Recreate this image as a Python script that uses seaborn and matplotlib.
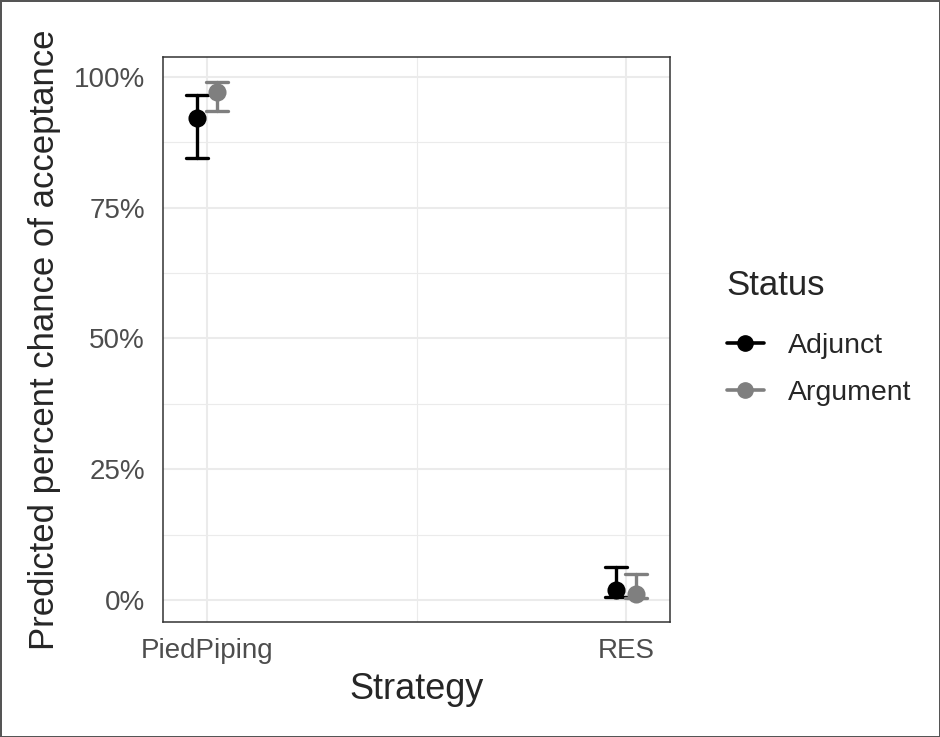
import matplotlib
matplotlib.use('Agg')
from matplotlib import pyplot as plt
from matplotlib.lines import Line2D
import matplotlib.ticker as ticker
import seaborn as sns
import pandas as pd

strategies = ['PiedPiping', 'PiedPiping', 'RES', 'RES']
statuses = ['Adjunct', 'Argument', 'Adjunct', 'Argument']
estimate = [0.922, 0.972, 0.019, 0.012]
lower = [0.845, 0.935, 0.005, 0.004]
upper = [0.966, 0.990, 0.063, 0.050]
status_colors = {'Adjunct': '#000000', 'Argument': '#7F7F7F'}

sns.set_style('white')
plt.rcParams['font.family'] = ['Liberation Sans', 'DejaVu Sans']

# three rows per group (low, estimate, high) -> median + min/max interval
rows = []
for s, st, e, lo, hi in zip(strategies, statuses, estimate, lower, upper):
    for v in (lo, e, hi):
        rows.append([s, st, v])
df = pd.DataFrame(rows, columns=['Strategy', 'Status', 'pred'])

fig = plt.figure(figsize=(9.4, 7.37), dpi=100)
fig.patch.set_edgecolor('#555555')
fig.patch.set_linewidth(2)
ax = fig.add_axes([163 / 940, 1 - 622 / 737, 507 / 940, 565 / 737])

sns.pointplot(
    data=df, x='Strategy', y='pred', hue='Status',
    order=['PiedPiping', 'RES'], hue_order=['Adjunct', 'Argument'],
    palette=status_colors,
    estimator='median', errorbar=lambda v: (v.min(), v.max()),
    dodge=0.048, capsize=0.052, linestyle='none', markersize=11,
    err_kws={'linewidth': 2.4}, legend=False, ax=ax,
)

ax.set_xlim(-0.105, 1.105)
ax.set_ylim(-0.042, 1.038)
ax.yaxis.set_major_locator(ticker.MultipleLocator(0.25))
ax.yaxis.set_minor_locator(ticker.MultipleLocator(0.125))
ax.xaxis.set_minor_locator(ticker.FixedLocator([0.5]))
ax.yaxis.set_major_formatter(ticker.PercentFormatter(1.0, decimals=0))
ax.grid(which='major', color='#EBEBEB', linewidth=1.5)
ax.grid(which='minor', color='#EBEBEB', linewidth=0.8)
ax.set_axisbelow(True)
for sp in ax.spines.values():
    sp.set_color('#333333')
    sp.set_linewidth(1.1)
ax.tick_params(which='major', length=6.5, width=1.3, color='#333333',
               labelsize=20, labelcolor='#4D4D4D', pad=5)
ax.tick_params(axis='y', pad=6.5)
ax.tick_params(which='minor', length=0)

ax.set_xlabel('Strategy', fontsize=26, labelpad=6)
ax.set_ylabel('Predicted percent chance of acceptance', fontsize=25, labelpad=9)

handles = [
    Line2D([], [], color=c, marker='o', markersize=11, linewidth=2.6)
    for c in status_colors.values()
]
leg = fig.legend(handles, list(status_colors), title='Status',
                 loc='center left', bbox_to_anchor=(0.746, 0.542),
                 frameon=False, fontsize=20.5, title_fontsize=25,
                 handlelength=1.3, labelspacing=0.75, handletextpad=0.85)
leg._legend_box.align = 'left'
leg._legend_box.sep = 22

fig.savefig('out.png', dpi=100, edgecolor=fig.get_edgecolor())
